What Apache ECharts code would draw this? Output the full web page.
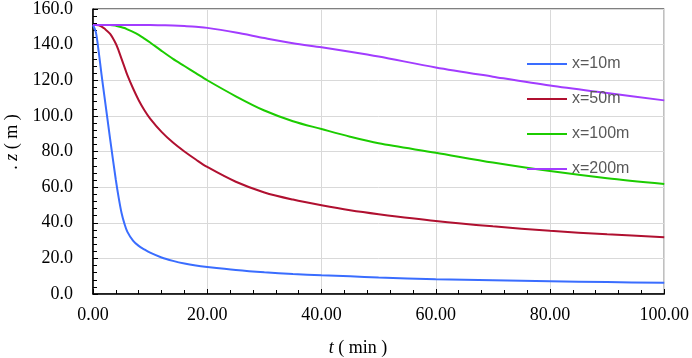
<!DOCTYPE html>
<html>
<head>
<meta charset="utf-8">
<script src="https://cdn.jsdelivr.net/npm/echarts@6/dist/echarts.min.js"></script>
<style>
  html, body { margin: 0; padding: 0; background: #fff; }
  #chart-container { width: 692px; height: 358px; }
</style>
</head>
<body>
<div id="chart-container"></div>
<script>
// time (min) sample points shared by all curves
var times = [0, 0.5, 1, 1.5, 2, 3, 4, 4.5, 5, 5.5, 6, 7, 8, 9, 10, 12, 14, 16, 18, 20, 25, 30, 35, 40, 45, 50, 60, 70, 80, 90, 100];

var names = ['x=10m', 'x=50m', 'x=100m', 'x=200m'];

// z (m)
var z10 = [151, 147, 136, 123, 111, 87, 64, 54, 45.5, 39.5, 35, 30, 27, 25, 23.2, 20.5, 18.6, 17.1, 16, 15.2, 13.5, 12.2, 11.2, 10.5, 9.9, 9.3, 8.3, 7.7, 7.2, 6.7, 6.3];
var z50 = [151, 151, 150.8, 150.1, 149, 146, 140.5, 136.5, 132, 127.5, 123, 115.5, 108.8, 103.2, 98.5, 91, 85, 80, 75.5, 71.3, 63, 57, 53, 49.8, 47, 44.8, 41, 38, 35.5, 33.5, 31.9];
var z100 = [151, 151, 151, 151, 151, 151, 150.6, 150.2, 149.8, 149.3, 148.6, 147.2, 145.5, 143.4, 141.2, 136.5, 132, 128, 124, 120, 111, 103, 97, 92.6, 88.3, 84.6, 79.3, 73.8, 69, 65, 61.8];
var z200 = [151, 151, 151, 151, 151, 151, 151, 151, 151, 151, 151, 151, 151, 151, 151, 150.9, 150.8, 150.5, 150, 149.4, 146.8, 143.7, 140.8, 138.5, 136, 133.3, 127.2, 122, 117, 112.8, 108.7];

var colors = ['#3a6dff', '#b01030', '#1ccc00', '#a23cff'];

function pairs(vals) {
    return times.map(function (t, i) { return [t, vals[i]]; });
}

var chart = echarts.init(document.getElementById('chart-container'));

var serif = 'Liberation Serif';

var seriesList = [z10, z50, z100, z200].map(function (vals, i) {
    return {
        name: names[i],
        type: 'line',
        smooth: 0.3,
        symbol: 'none',
        data: pairs(vals),
        lineStyle: { color: colors[i], width: 2 },
        itemStyle: { color: colors[i] }
    };
});

chart.setOption({
    animation: false,
    grid: {
        left: 93, right: 24, top: 6, bottom: 64,
        show: true,
        borderColor: '#000',
        borderWidth: 1
    },
    legend: {
        orient: 'vertical',
        left: 527,
        top: 56,
        padding: 0,
        icon: 'rect',
        itemWidth: 40,
        itemHeight: 2,
        itemGap: 19,
        data: names,
        textStyle: { color: '#595959', fontSize: 16, fontFamily: 'Liberation Sans', lineHeight: 16 }
    },
    xAxis: {
        type: 'value',
        min: 0, max: 100, interval: 20,
        axisLine: { lineStyle: { color: '#000', width: 1.5 } },
        axisTick: { show: true, inside: true, length: 5, lineStyle: { color: '#000' } },
        minorTick: { show: true, splitNumber: 5, length: 4, lineStyle: { color: '#000' } },
        axisLabel: {
            color: '#000', fontFamily: serif, fontSize: 18, margin: 12,
            formatter: function (v) { return v.toFixed(2); }
        },
        splitLine: { show: true, lineStyle: { color: '#d9d9d9' } }
    },
    yAxis: {
        type: 'value',
        min: 0, max: 160, interval: 20,
        axisLine: { show: true, lineStyle: { color: '#000', width: 1.5 } },
        axisTick: { show: true, inside: true, length: 5, lineStyle: { color: '#000' } },
        minorTick: { show: true, splitNumber: 5, length: 4, lineStyle: { color: '#000' } },
        axisLabel: {
            color: '#000', fontFamily: serif, fontSize: 18, margin: 20,
            formatter: function (v) { return v.toFixed(1); }
        },
        splitLine: { show: true, lineStyle: { color: '#d9d9d9' } }
    },
    graphic: [
        {
            type: 'text',
            x: 358, y: 348,
            style: {
                text: '{i|t} ( min )',
                font: '18px ' + serif,
                fill: '#000',
                align: 'center',
                verticalAlign: 'middle',
                rich: { i: { fontStyle: 'italic', fontFamily: serif, fontSize: 18 } }
            }
        },
        {
            type: 'text',
            x: 12, y: 142,
            rotation: Math.PI / 2,
            style: {
                text: '. {i|z} ( m )',
                font: '18px ' + serif,
                fill: '#000',
                align: 'center',
                verticalAlign: 'middle',
                rich: { i: { fontStyle: 'italic', fontFamily: serif, fontSize: 18 } }
            }
        }
    ],
    series: seriesList
});
</script>
</body>
</html>
